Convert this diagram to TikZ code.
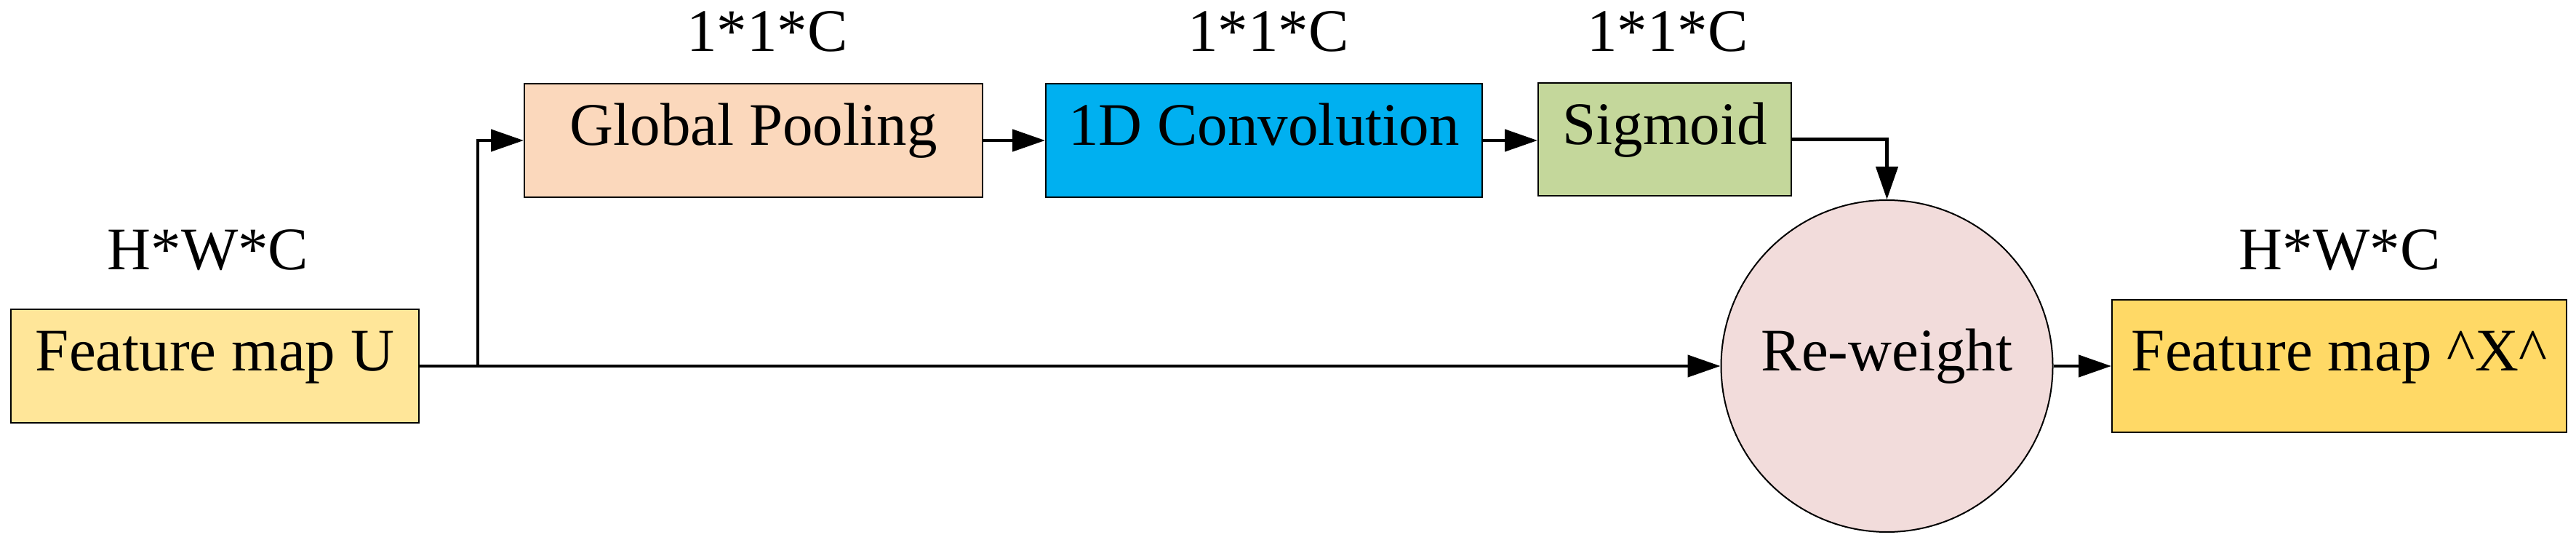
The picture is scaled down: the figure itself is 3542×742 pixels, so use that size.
\documentclass[tikz,border=0pt]{standalone}
\usepackage{fontspec}
\setmainfont{Liberation Serif}
\usetikzlibrary{arrows.meta}
\definecolor{fmu}{HTML}{FFE699}
\definecolor{gpc}{HTML}{FBD8BC}
\definecolor{convc}{HTML}{00B0F0}
\definecolor{sigc}{HTML}{C4D79B}
\definecolor{rwc}{HTML}{F2DCDB}
\definecolor{fmx}{HTML}{FFD966}
\tikzset{
  bigfont/.style={font=\fontsize{41.5}{50}\selectfont},
  blockbox/.style={draw=black, line width=1pt, bigfont, inner sep=0pt,
    text height=0.662em, text depth=0pt},
  dimlabel/.style={bigfont, anchor=base, inner sep=0pt},
  arr/.style={line width=2.2pt, -{Triangle[length=22.5pt,width=15pt]}},
}
\begin{document}
\begin{tikzpicture}[x=0.5pt,y=-0.5pt]
\useasboundingbox (0,0) rectangle (3542,742);
% blocks
\node[blockbox, fill=fmu, minimum width=280.5pt, minimum height=77.5pt] (fmu) at (295.5,503) {Feature map U};
\node[blockbox, fill=gpc, minimum width=315pt, minimum height=78pt] (gp) at (1036,193) {Global Pooling};
\node[blockbox, fill=convc, minimum width=300pt, minimum height=78pt] (conv) at (1738,193) {1D Convolution};
\node[blockbox, fill=sigc, minimum width=174pt, minimum height=77.5pt] (sig) at (2289,191.5) {Sigmoid};
\node[blockbox, circle, fill=rwc, minimum size=228pt] (rw) at (2594.5,503) {Re-weight};
\node[blockbox, fill=fmx, minimum width=312.5pt, minimum height=90.5pt] (fmx) at (3216.5,503) {Feature map \^{}X\^{}};
% dimension labels
\node[dimlabel] (l1) at (286,371) {H*W*C};
\node[dimlabel] (l2) at (1055,71) {1*1*C};
\node[dimlabel] (l3) at (1744,71) {1*1*C};
\node[dimlabel] (l4) at (2293,71) {1*1*C};
\node[dimlabel] (l5) at (3217,371) {H*W*C};
% connectors
\coordinate (split) at (657,503);
\draw[arr] (fmu.east) -- (rw.west);
\draw[arr] (split) |- (gp.west);
\draw[arr] (gp.east) -- (conv.west);
\draw[arr] (conv.east) -- (conv.east -| sig.west);
\draw[arr] (sig.east) -| (rw.north);
\draw[arr] (rw.east) -- (fmx.west);
\end{tikzpicture}
\end{document}
